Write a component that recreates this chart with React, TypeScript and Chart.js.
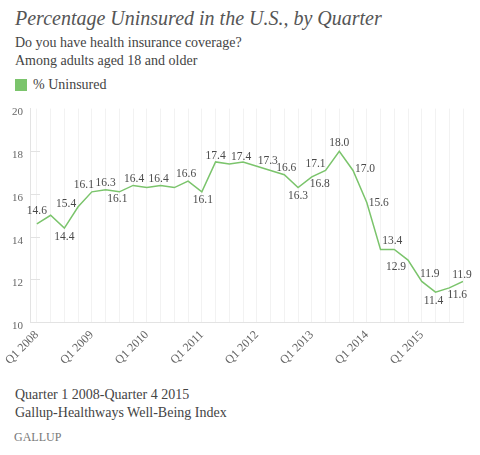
import React, { useEffect, useRef } from 'react';
import { Chart, registerables } from 'chart.js';

Chart.register(...registerables);

// ---- Data ----
const quarters = [
  'Q1 2008', 'Q2 2008', 'Q3 2008', 'Q4 2008',
  'Q1 2009', 'Q2 2009', 'Q3 2009', 'Q4 2009',
  'Q1 2010', 'Q2 2010', 'Q3 2010', 'Q4 2010',
  'Q1 2011', 'Q2 2011', 'Q3 2011', 'Q4 2011',
  'Q1 2012', 'Q2 2012', 'Q3 2012', 'Q4 2012',
  'Q1 2013', 'Q2 2013', 'Q3 2013', 'Q4 2013',
  'Q1 2014', 'Q2 2014', 'Q3 2014', 'Q4 2014',
  'Q1 2015', 'Q2 2015', 'Q3 2015', 'Q4 2015',
];

const uninsured = [
  14.6, 15.0, 14.4, 15.4,
  16.1, 16.2, 16.1, 16.4,
  16.3, 16.4, 16.3, 16.6,
  16.1, 17.5, 17.4, 17.5,
  17.3, 17.1, 16.9, 16.3,
  16.8, 17.1, 18.0, 17.1,
  15.6, 13.4, 13.4, 12.9,
  11.9, 11.4, 11.6, 11.9,
];

// value labels printed on the chart (null = no label)
const pointLabels: (string | null)[] = [
  '14.6', null, '14.4', '15.4',
  '16.1', '16.3', '16.1', '16.4',
  null, '16.4', null, '16.6',
  '16.1', '17.4', null, '17.4',
  '17.3', null, '16.6', '16.3',
  '16.8', '17.1', '18.0', '17.0',
  '15.6', null, '13.4', '12.9',
  '11.9', '11.4', '11.6', '11.9',
];

const yTicks = [10, 12, 14, 16, 18, 20];

// ---- Style (label placement offsets in px relative to the point) ----
const labelOffsets: [number, number][] = [
  [0, -13], [0, 0], [0, 9], [-12, -3],
  [-8, -7], [0, -7], [-2, 7], [1, -6],
  [0, 0], [-2, -6], [0, 0], [-2, -7],
  [1, 8], [0, -6], [0, 0], [-2, -5],
  [11, -5], [0, 0], [2, -7], [0, 8],
  [8, 7], [-10, -7], [0, -8], [12, -2],
  [12, 0], [0, 0], [-2, -8], [-12, 7],
  [8, -7], [-2, 9], [8, 7], [-1, -6],
];

const SERIF = '"Liberation Serif", "DejaVu Serif", serif';
const GREEN = '#7bc46c';

const labelPlugin = {
  id: 'pointLabelsPlugin',
  beforeDatasetsDraw(chart: any) {
    const { ctx, chartArea, scales } = chart;
    const y = scales.y;
    ctx.save();
    ctx.strokeStyle = '#e2e2e2';
    ctx.lineWidth = 1;
    yTicks.forEach((v) => {
      if (v === 10 || v === 20) return;
      const py = Math.round(y.getPixelForValue(v)) + 0.5;
      ctx.beginPath();
      ctx.moveTo(chartArea.left, py);
      ctx.lineTo(chartArea.left + 10, py);
      ctx.stroke();
    });
    ctx.restore();
  },
  afterDatasetsDraw(chart: any) {
    const { ctx, scales } = chart;
    const { x, y } = scales;
    ctx.save();
    ctx.font = `11.5px ${SERIF}`;
    ctx.fillStyle = '#4a4a4a';
    ctx.textAlign = 'center';
    ctx.textBaseline = 'middle';
    pointLabels.forEach((t, i) => {
      if (!t) return;
      const [dx, dy] = labelOffsets[i];
      ctx.fillText(t, x.getPixelForValue(i) + dx, y.getPixelForValue(uninsured[i]) + dy);
    });
    ctx.restore();
  },
};

function ChartCanvas() {
  const ref = useRef<HTMLCanvasElement | null>(null);
  useEffect(() => {
    if (!ref.current) return;
    const chart = new Chart(ref.current, {
      type: 'line',
      data: {
        datasets: [
          {
            label: '% Uninsured',
            data: uninsured.map((v, i) => ({ x: i, y: v })),
            borderColor: GREEN,
            backgroundColor: GREEN,
            borderWidth: 1.5,
            pointRadius: 0,
            tension: 0,
            fill: false,
          },
        ],
      },
      options: {
        animation: false,
        responsive: false,
        maintainAspectRatio: false,
        layout: { padding: { top: 10, right: 17, left: 0, bottom: 0 } },
        plugins: {
          legend: { display: false },
          tooltip: { enabled: false },
        },
        scales: {
          x: {
            type: 'linear',
            min: -0.5,
            max: quarters.length - 1,
            afterBuildTicks: (axis: any) => {
              axis.ticks = quarters.map((_, i) => ({ value: i }));
            },
            afterFit: (s: any) => {
              s.height = 48;
            },
            ticks: {
              autoSkip: false,
              maxRotation: 45,
              minRotation: 45,
              padding: 6,
              color: '#666',
              font: { family: SERIF, size: 12 },
              callback: (v: any) => {
                const q = quarters[v as number];
                return q && q.startsWith('Q1') ? q : '';
              },
            },
            grid: { color: '#f2f2f2', drawTicks: false, lineWidth: 1 },
            border: { color: '#e3e3e3', width: 1 },
          },
          y: {
            min: 10,
            max: 20,
            afterBuildTicks: (axis: any) => {
              axis.ticks = yTicks.map((v) => ({ value: v }));
            },
            afterFit: (s: any) => {
              s.width = 30;
            },
            ticks: {
              labelOffset: 4,
              padding: 7,
              color: '#666',
              font: { family: SERIF, size: 11 },
            },
            grid: { drawOnChartArea: false, drawTicks: false },
            border: { color: '#e3e3e3', width: 1 },
          },
        },
      },
      plugins: [labelPlugin],
    });
    return () => chart.destroy();
  }, []);
  return (
    <canvas
      ref={ref}
      width={480}
      height={275}
      style={{ position: 'absolute', left: 0, top: 95, width: 480, height: 275 }}
    />
  );
}

const textBase: React.CSSProperties = {
  position: 'absolute',
  left: 15,
  fontFamily: SERIF,
  lineHeight: 1,
  whiteSpace: 'nowrap',
  margin: 0,
};

export default function App() {
  return (
    <div
      style={{
        position: 'fixed',
        left: 0,
        top: 0,
        width: 480,
        height: 455,
        background: '#fff',
        overflow: 'hidden',
      }}
    >
      <div style={{ ...textBase, top: 7.5, fontSize: 20, fontStyle: 'italic', color: '#555' }}>
        Percentage Uninsured in the U.S., by Quarter
      </div>
      <div style={{ ...textBase, top: 36, fontSize: 14, color: '#444' }}>
        Do you have health insurance coverage?
      </div>
      <div style={{ ...textBase, top: 54.3, fontSize: 14, color: '#444' }}>
        Among adults aged 18 and older
      </div>
      <div
        style={{
          position: 'absolute',
          left: 15,
          top: 79,
          width: 12,
          height: 12,
          background: GREEN,
        }}
      />
      <div style={{ ...textBase, left: 33, top: 77.6, fontSize: 14, color: '#444' }}>
        % Uninsured
      </div>
      <ChartCanvas />
      <div style={{ ...textBase, top: 388.3, fontSize: 14, color: '#444' }}>
        Quarter 1 2008-Quarter 4 2015
      </div>
      <div style={{ ...textBase, top: 405.6, fontSize: 14, color: '#444' }}>
        Gallup-Healthways Well-Being Index
      </div>
      <div style={{ ...textBase, left: 14, top: 430.7, fontSize: 12, color: '#777' }}>
        GALLUP
      </div>
    </div>
  );
}
